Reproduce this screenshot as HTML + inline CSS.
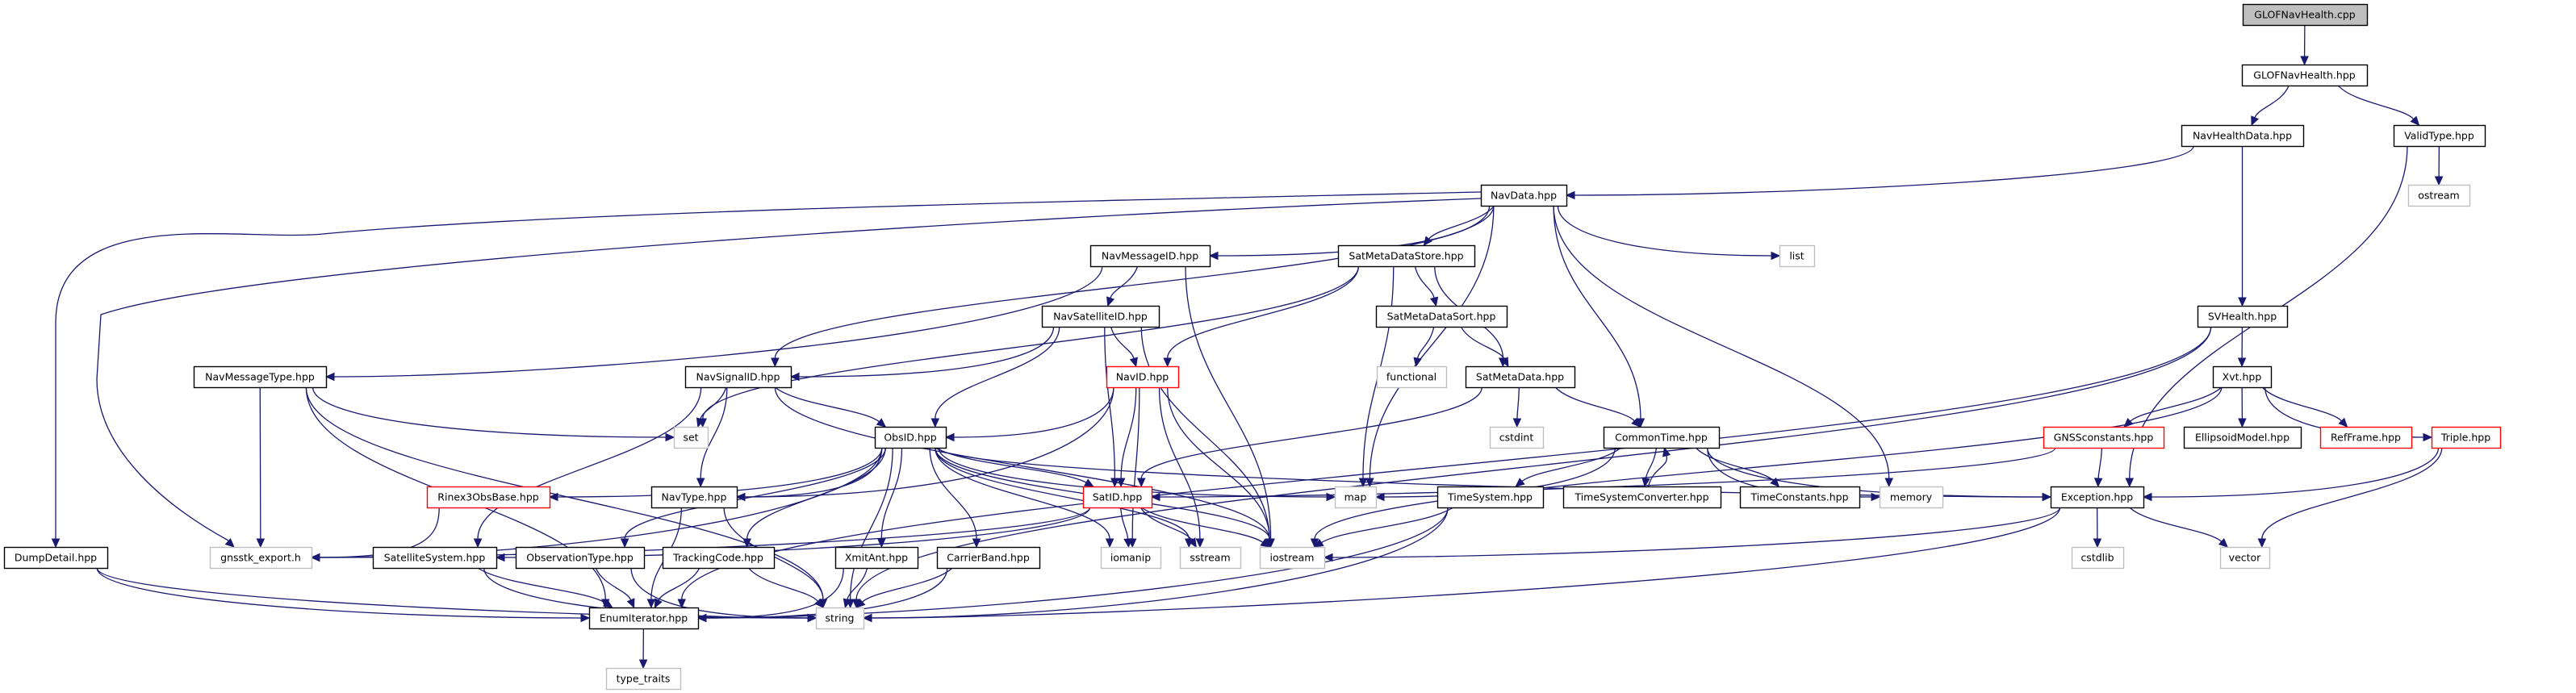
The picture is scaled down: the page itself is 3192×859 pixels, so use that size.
<!DOCTYPE html>
<html><head><meta charset="utf-8">
<style>
html,body{margin:0;padding:0;background:#fff;}
svg{display:block;}
text{font-family:"DejaVu Sans","Liberation Sans",sans-serif;font-size:12.5px;fill:#000;}
</style></head>
<body>
<svg id="g" width="3192" height="859" viewBox="0 0 3192 859" xmlns="http://www.w3.org/2000/svg">
<rect width="3192" height="859" fill="#fff"/>
<g id="edges" fill="none" stroke="#191970" stroke-width="1.3"></g>
<g id="arrows" fill="#191970" stroke="#191970" stroke-width="1"></g>
<g id="nodes"></g>
</svg>
<script>
(function(){
var R=[5,80,155,229,304,379,454,529,603,678,753,828];
var N={
cpp:["GLOFNavHealth.cpp",2779,2933,0,"f"],
ghpp:["GLOFNavHealth.hpp",2778,2933,1],
nhd:["NavHealthData.hpp",2703,2854,2],
vt:["ValidType.hpp",2966,3079,2],
nd:["NavData.hpp",1835,1941,3],
ost:["ostream",2984,3060,3,"g"],
nmi:["NavMessageID.hpp",1351,1499,4],
smds:["SatMetaDataStore.hpp",1658,1827,4],
lst:["list",2205,2248,4,"g"],
nsat:["NavSatelliteID.hpp",1291,1436,5],
smdsort:["SatMetaDataSort.hpp",1705,1867,5],
svh:["SVHealth.hpp",2723,2834,5],
nmt:["NavMessageType.hpp",240,404,6],
nsig:["NavSignalID.hpp",849,980,6],
nid:["NavID.hpp",1371,1460,6,"r"],
func:["functional",1706,1792,6,"g"],
smd:["SatMetaData.hpp",1816,1951,6],
xvt:["Xvt.hpp",2742,2814,6],
sset:["set",835,877,7,"g"],
obs:["ObsID.hpp",1084,1172,7],
cstdint:["cstdint",1846,1912,7,"g"],
ct:["CommonTime.hpp",1987,2130,7],
gnss:["GNSSconstants.hpp",2532,2681,7,"r"],
ell:["EllipsoidModel.hpp",2706,2851,7],
rf:["RefFrame.hpp",2875,2988,7,"r"],
tri:["Triple.hpp",3013,3098,7,"r"],
rx:["Rinex3ObsBase.hpp",529,681,8,"r"],
nt:["NavType.hpp",807,913,8],
sat:["SatID.hpp",1342,1427,8,"r"],
mmap:["map",1654,1705,8,"g"],
ts:["TimeSystem.hpp",1781,1912,8],
tsc:["TimeSystemConverter.hpp",1937,2132,8],
tc:["TimeConstants.hpp",2156,2304,8],
mem:["memory",2329,2407,8,"g"],
exc:["Exception.hpp",2541,2656,8],
dd:["DumpDetail.hpp",5,133,9],
gx:["gnsstk_export.h",260,386,9,"g"],
ss:["SatelliteSystem.hpp",462,615,9],
ot:["ObservationType.hpp",639,798,9],
tcode:["TrackingCode.hpp",821,959,9],
xa:["XmitAnt.hpp",1035,1137,9],
cb:["CarrierBand.hpp",1161,1288,9],
iom:["iomanip",1364,1438,9,"g"],
sst:["sstream",1462,1537,9,"g"],
ios:["iostream",1561,1641,9,"g"],
cstdlib:["cstdlib",2567,2631,9,"g"],
vec:["vector",2751,2812,9,"g"],
ei:["EnumIterator.hpp",730,865,10],
str:["string",1011,1070,10,"g"],
tt:["type_traits",751,843,11,"g"]
};
var H=26;
var E=[
["cpp","ghpp"],["ghpp","nhd"],["ghpp","vt"],["nhd","nd"],["nhd","svh"],["vt","ost"],["vt","exc"],
["nd","nsig"],["nd","nmi"],["nd","smds"],["nd","lst"],["nd","ct"],["nd","mem"],["nd","mmap"],
["nmi","nmt"],["nmi","nsat"],["nmi","ios"],
["smds","sset"],["smds","nid"],["smds","mmap"],["smds","smdsort"],["smds","smd"],
["smdsort","func"],["smdsort","smd"],
["smd","cstdint"],["smd","ct"],["smd","sat"],
["nsat","nsig"],["nsat","obs"],["nsat","nid"],["nsat","sat"],["nsat","ios"],
["nsig","sset"],["nsig","nt"],["nsig","obs"],["nsig","ss"],["nsig","ios"],
["nmt","sset"],["nmt","gx"],["nmt","ei"],["nmt","str"],
["nid","obs"],["nid","nt"],["nid","sat"],["nid","iom"],["nid","sst"],["nid","ios"],
["obs","gx"],["obs","rx"],["obs","nt"],["obs","ot"],["obs","tcode"],["obs","xa"],["obs","cb"],["obs","sat"],["obs","mmap"],["obs","iom"],["obs","sst"],["obs","ios"],["obs","str"],["obs","exc"],
["sat","ss"],["sat","iom"],["sat","sst"],["sat","ios"],["sat","gx"],
["nt","ei"],["nt","str"],["rx","gx"],
["ss","ei"],["ss","str"],["ot","ei"],["ot","str"],["tcode","ei"],["tcode","str"],["xa","ei"],["xa","str"],["cb","ei"],["cb","str"],
["dd","ei"],["dd","str"],["ei","tt"],
["ct","ts"],["ct","tsc"],["ct","tc"],["ct","mem"],["ct","exc"],["ct","mmap"],["tsc","ct"],
["ts","ios"],["ts","str"],["ts","ei"],
["svh","xvt"],["svh","str"],["svh","ei"],
["xvt","gnss"],["xvt","ell"],["xvt","rf"],["xvt","tri"],["xvt","ios"],
["gnss","exc"],["gnss","sat"],["tri","exc"],["tri","vec"],
["exc","cstdlib"],["exc","vec"],["exc","str"],["exc","ios"]
];
var NS="http://www.w3.org/2000/svg";
function mk(t,a,p){var e=document.createElementNS(NS,t);for(var k in a)e.setAttribute(k,a[k]);p.appendChild(e);return e;}
var G=document.getElementById("nodes"),EG=document.getElementById("edges"),AG=document.getElementById("arrows");
function cxx(n){return (n[1]+n[2])/2;}
function rowTop(n){return R[n[3]];}
function arrow(x,y,px,py){
 var dx=x-px,dy=y-py,l=Math.sqrt(dx*dx+dy*dy)||1;dx/=l;dy/=l;
 var L=10,W=4.5,bx=x-dx*L,by=y-dy*L;
 mk("polygon",{points:x+","+y+" "+(bx-dy*W)+","+(by+dx*W)+" "+(bx+dy*W)+","+(by-dx*W)},AG);
 return [bx,by];
}
function edge(a,b){
 var s=N[a],t=N[b];if(!s||!t)return;
 var sy,ty,sx,tx,d,bb,c1x,c1y,c2x,c2y,k;
 var scx=cxx(s),tcx=cxx(t);
 var sw=(s[2]-s[1])/2,tw=(t[2]-t[1])/2;
 if(t[3]>s[3]){
  var rows=t[3]-s[3];var ddx=tcx-scx;
  sy=rowTop(s)+H; ty=rowTop(t);
  if(Math.abs(ddx)>260*rows && rows<=2){
   sx=scx+Math.max(-sw*0.8,Math.min(sw*0.8,ddx*0.3));
   tx=ddx>0?t[1]:t[2]; ty=rowTop(t)+H/2;
   c1x=sx; c1y=sy+(ty-sy)*0.6; c2x=tx-(ddx>0?1:-1)*Math.min(Math.abs(ddx)*0.5,300); c2y=ty;
   bb=arrow(tx,ty,c2x,c2y);
  } else {
   sx=scx+Math.max(-sw*0.7,Math.min(sw*0.7,ddx*0.25));
   tx=tcx+Math.max(-tw*0.7,Math.min(tw*0.7,-ddx*0.15));
   k=(ty-sy)*0.45;
   c1x=sx;c1y=sy+k;c2x=tx;c2y=ty-k;
   if(rows==1){c1x=sx+(tx-sx)*0.2;c2x=tx-(tx-sx)*0.2;}
   bb=arrow(tx,ty,c2x,c2y);
  }
  d="M"+sx+","+sy+" C"+c1x+","+c1y+" "+c2x+","+c2y+" "+bb[0]+","+bb[1];
 } else if(t[3]<s[3]){
  sx=scx+8; sy=rowTop(s); tx=tcx+4; ty=rowTop(t)+H;
  k=(sy-ty)*0.5;
  bb=arrow(tx,ty,tx+6,ty+k);
  d="M"+sx+","+sy+" C"+(sx+6)+","+(sy-k)+" "+(tx+6)+","+(ty+k)+" "+bb[0]+","+bb[1];
 } else {
  var dir=tcx>scx?1:-1;
  sx=dir>0?s[2]:s[1]; tx=dir>0?t[1]:t[2]; sy=ty=rowTop(s)+H/2;
  bb=arrow(tx,ty,sx,sy);
  d="M"+sx+","+sy+" L"+bb[0]+","+bb[1];
 }
 mk("path",{d:d},EG);
}
for(var i=0;i<E.length;i++){try{edge(E[i][0],E[i][1]);}catch(e){}}
try{
mk("path",{d:"M1835,238 C1300,250 700,262 400,290 C300,300 69,250 69,400 L69,668"},EG);
arrow(69,678,69,660);
mk("path",{d:"M1835,246 C1200,270 300,330 125,390 L120,470 C120,560 210,630 283,670"},EG);
arrow(290,678,270,660);
}catch(e){}
for(var key in N){try{var n=N[key];var y=rowTop(n);
 var stroke=n[4]=="g"?"#bfbfbf":(n[4]=="r"?"#ff0000":"#000");
 var fill=n[4]=="f"?"#bfbfbf":"#fff";
 mk("rect",{x:n[1]+0.5,y:y+0.5,width:n[2]-n[1],height:H,fill:fill,stroke:stroke,"stroke-width":1.4},G);
 var t=mk("text",{x:cxx(n),y:y+H/2+4.5,"text-anchor":"middle"},G);t.textContent=n[0];
}catch(e){}}
})();
</script>
</body></html>
